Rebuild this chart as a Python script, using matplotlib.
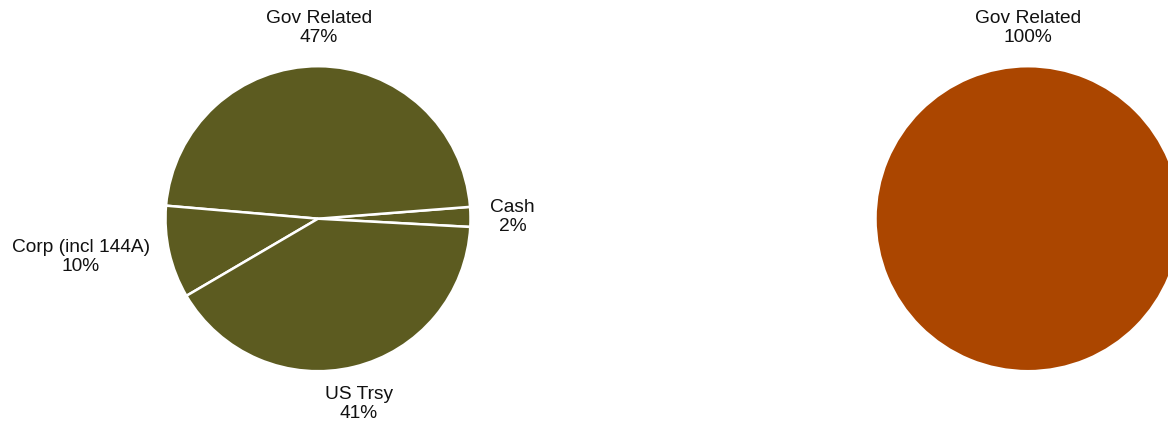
import numpy as np
import matplotlib
matplotlib.use("Agg")
from matplotlib import pyplot as plt

# datos de los dos graficos de torta
sectores_izq = ["Cash", "Gov Related", "Corp (incl 144A)", "US Trsy"]
valores_izq = [2.1, 47.4, 9.8, 40.7]
etiquetas_izq = ["2%", "47%", "10%", "41%"]

sectores_der = ["Gov Related"]
valores_der = [100.0]
etiquetas_der = ["100%"]

color_izq = "#5C5B20"
color_der = "#AB4600"

plt.rcParams["font.family"] = ["Liberation Sans", "DejaVu Sans"]

W, H = 1168, 425
fig = plt.figure(figsize=(W / 100, H / 100), dpi=100)

r_px = 152.5


def torta(cx, cy, nombres, valores, etiquetas, color, inicio):
    # ejes cuadrados de 2r x 2r centrados en la torta (coordenadas de pixel, y desde arriba)
    ax = fig.add_axes([(cx - r_px) / W, (H - cy - r_px) / H, 2 * r_px / W, 2 * r_px / H])
    wedges, _ = ax.pie(valores, colors=[color] * len(valores), startangle=inicio,
                       counterclock=True, radius=1,
                       wedgeprops=dict(edgecolor="white", linewidth=1.8))
    # pie() pone sus propios limites, se corrigen despues
    ax.set_xlim(-1, 1)
    ax.set_ylim(-1, 1)
    ax.set_aspect("equal")
    ax.axis("off")
    d = 1 + 20 / r_px
    for w, nombre, et in zip(wedges, nombres, etiquetas):
        w.set_clip_on(False)
        ang = np.deg2rad((w.theta1 + w.theta2) / 2)
        c, s = np.cos(ang), np.sin(ang)
        ha = "left" if c > 0.35 else ("right" if c < -0.35 else "center")
        va = "bottom" if s > 0.35 else ("top" if s < -0.35 else "center")
        ax.text(d * c, d * s, nombre + "\n" + et, ha=ha, va=va, multialignment="center",
                fontsize=13.8, color="#111111", linespacing=1.15, clip_on=False)
    return ax


torta(318, 218.7, sectores_izq, valores_izq, etiquetas_izq, color_izq, -3.1)
torta(1028, 218.7, sectores_der, valores_der, etiquetas_der, color_der, 90 - 180)

fig.savefig("out.png", dpi=100)
